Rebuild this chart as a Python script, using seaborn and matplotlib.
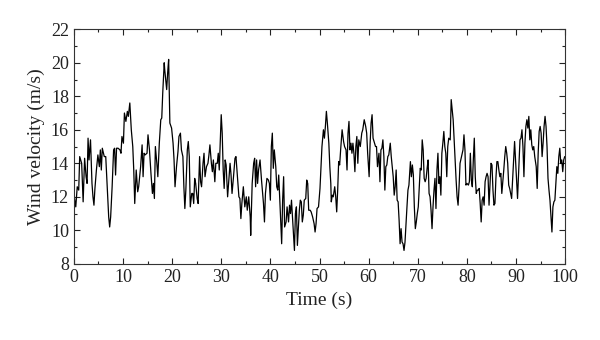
import numpy as np
import pandas as pd
import seaborn as sns
import matplotlib
matplotlib.use("Agg")
import matplotlib.pyplot as plt
from matplotlib.ticker import MultipleLocator

# wind record, split into blocks of ~20 s
time_a = [0.1, 0.4, 0.7, 1.0, 1.2, 1.6, 1.9, 2.2, 2.5, 2.7, 2.9, 3.1, 3.4, 3.7, 3.9, 4.1, 4.3, 4.6, 4.9, 5.2,
          5.4, 5.6, 5.8, 6.2, 6.5, 6.8, 7.1, 7.3, 7.5, 7.8, 8.1, 8.3, 8.5, 8.7, 9.0, 9.4, 9.6, 9.8, 10.1, 10.3,
          10.6, 10.9, 11.1, 11.4, 11.7, 12.0, 12.2, 12.4, 12.7, 13.0, 13.2, 13.6, 13.9, 14.1, 14.3, 14.5, 14.9,
          15.1, 15.4, 15.7, 16.0, 16.2, 16.4, 16.6, 16.9, 17.1, 17.4, 17.7, 17.9, 18.1, 18.4, 18.5, 18.9, 19.1,
          19.3, 19.55, 19.9]
wind_a = [12.0, 11.4, 12.6, 12.4, 14.4, 14.0, 11.7, 14.3, 13.2, 12.8, 15.5, 14.2, 15.4, 12.8, 12.0, 11.5, 12.5, 13.6, 14.5, 13.8,
          14.8, 13.6, 14.9, 14.4, 14.4, 12.6, 10.8, 10.2, 10.8, 12.6, 14.8, 14.9, 13.3, 14.9, 14.9, 14.8, 14.6, 15.6, 15.2, 17.0,
          16.5, 17.1, 16.8, 17.6, 16.0, 15.0, 13.6, 11.6, 13.6, 12.3, 12.6, 13.8, 15.1, 13.2, 14.6, 14.5, 14.6,
          15.7, 14.8, 13.4, 12.2, 12.8, 11.9, 15.0, 14.0, 13.2, 15.2, 16.6, 16.7, 18.2, 20.0, 19.6, 18.4, 19.4,
          20.2, 16.4, 16.1]

time_b = [20.2, 20.4, 20.6, 20.9, 21.2, 21.4, 21.7, 21.9, 22.2, 22.4, 22.6, 22.8, 23.1, 23.3, 23.5, 23.7, 24.0, 24.2,
          24.4, 24.6, 24.8, 25.1, 25.3, 25.6, 25.8, 26.0, 26.3, 26.5, 26.7, 27.0, 27.3, 27.5, 27.7, 28.0, 28.2, 28.4,
          28.7, 28.9, 29.2, 29.4, 29.6, 29.8, 30.0, 30.2, 30.4, 30.6, 30.8, 31.0, 31.3, 31.6, 31.8, 32.0, 32.2, 32.5,
          32.8, 33.0, 33.3, 33.6, 33.8, 34.0, 34.2, 34.5, 34.8, 35.1, 35.3, 35.6, 35.9, 36.0, 36.3, 36.6, 36.8, 37.0,
          37.2, 37.4, 37.6, 37.9, 38.2, 38.6, 38.8, 39.0, 39.3, 39.6, 39.8]
wind_b = [15.2, 14.2, 12.6, 13.8, 14.7, 15.6, 15.8, 14.8, 14.4, 12.6, 11.3, 12.4, 14.8, 15.3, 14.4, 11.4, 12.2, 12.2,
          11.6, 13.1, 12.8, 11.9, 11.6, 14.4, 12.9, 12.6, 14.0, 14.6, 13.2, 13.8, 14.0, 14.5, 15.1, 14.0, 13.5, 14.2,
          12.9, 14.0, 14.0, 14.6, 13.6, 15.2, 16.9, 15.8, 13.6, 12.5, 14.2, 13.9, 12.0, 13.2, 14.0, 13.3, 12.2, 13.2,
          14.3, 14.4, 13.2, 12.0, 11.9, 10.7, 11.6, 12.6, 11.4, 12.0, 11.2, 12.0, 10.8, 9.7, 12.8, 14.0, 14.3, 12.6,
          14.2, 12.8, 13.6, 14.2, 13.0, 11.6, 10.5, 12.2, 13.1, 13.0, 12.8]

time_c = [40.0, 40.2, 40.4, 40.6, 40.8, 41.1, 41.3, 41.5, 41.7, 41.9, 42.1, 42.3, 42.5, 42.7, 42.9, 43.2, 43.4, 43.7,
          43.9, 44.1, 44.3, 44.5, 44.7, 44.9, 45.1, 45.3, 45.5, 45.7, 45.9, 46.1, 46.3, 46.5, 46.7, 46.9, 47.2, 47.4,
          47.6, 47.8, 48.1, 48.3, 48.6, 48.9, 49.1, 49.3, 49.5, 49.8, 50.1, 50.3, 50.5, 50.8, 51.0, 51.2, 51.4, 51.6,
          51.9, 52.1, 52.3, 52.4, 52.6, 52.8, 53.1, 53.3, 53.5, 53.7, 53.9, 54.1, 54.3, 54.6, 54.9, 55.1, 55.4, 55.6,
          55.8, 56.0, 56.2, 56.4, 56.6, 56.8, 57.0, 57.2, 57.4, 57.6, 57.8, 58.0, 58.3, 58.6, 58.8, 59.1, 59.4, 59.6,
          59.8]
wind_c = [11.8, 15.0, 15.8, 13.7, 14.8, 13.8, 12.6, 12.4, 13.3, 12.0, 10.6, 9.2, 11.8, 13.2, 10.2, 10.5, 11.4, 10.5,
          11.5, 11.0, 11.8, 10.8, 9.8, 8.8, 11.0, 11.4, 9.1, 10.2, 11.2, 11.8, 11.7, 10.5, 10.9, 11.8, 11.9, 13.0,
          12.8, 11.2, 11.2, 11.1, 10.8, 10.4, 9.9, 10.4, 11.3, 11.4, 12.5, 13.8, 15.0, 16.0, 15.5, 16.2, 17.1, 16.4,
          15.2, 13.8, 12.8, 11.7, 12.1, 12.0, 12.6, 12.0, 11.1, 12.4, 14.1, 13.9, 14.8, 16.0, 15.3, 15.0, 14.8, 13.6,
          15.8, 16.5, 14.8, 15.2, 14.6, 15.2, 14.6, 13.5, 15.0, 15.6, 14.0, 15.4, 15.0, 15.8, 16.0, 16.6, 16.2, 15.8,
          14.6]

time_d = [60.1, 60.3, 60.5, 60.7, 60.9, 61.2, 61.4, 61.6, 61.8, 62.1, 62.3, 62.5, 62.7, 62.9, 63.1, 63.3, 63.5, 63.7,
          63.9, 64.1, 64.4, 64.6, 64.8, 65.0, 65.2, 65.4, 65.6, 65.8, 66.0, 66.2, 66.4, 66.6, 66.8, 67.0, 67.2, 67.4,
          67.6, 67.8, 68.0, 68.2, 68.5, 68.7, 68.9, 69.1, 69.3, 69.5, 69.7, 69.9, 70.1, 70.3, 70.5, 70.7, 70.9, 71.1,
          71.3, 71.5, 71.7, 71.9, 72.1, 72.3, 72.5, 72.7, 72.9, 73.1, 73.3, 73.5, 73.7, 73.9, 74.1, 74.3, 74.5, 74.7,
          74.9, 75.1, 75.3, 75.5, 75.7, 75.9, 76.1, 76.3, 76.6, 76.8, 77.0, 77.2, 77.4, 77.6, 77.8, 78.0, 78.2, 78.4,
          78.6, 78.9, 79.2, 79.4, 79.6, 79.8]
wind_d = [13.2, 15.2, 16.4, 16.9, 15.5, 15.2, 15.0, 15.0, 13.8, 14.6, 12.9, 14.8, 14.9, 15.4, 14.4, 12.4, 13.8, 13.9,
          14.4, 14.5, 15.2, 14.4, 13.8, 13.2, 12.1, 12.6, 13.6, 11.8, 11.7, 10.6, 9.2, 10.1, 9.3, 9.2, 8.8, 9.3,
          10.4, 11.4, 12.4, 12.7, 14.1, 13.2, 13.9, 13.3, 11.4, 10.1, 10.5, 11.0, 11.4, 12.6, 13.7, 13.6, 15.4, 14.8,
          13.1, 12.9, 13.1, 13.7, 14.2, 12.2, 12.0, 11.2, 10.1, 11.4, 12.4, 13.1, 11.3, 13.6, 14.6, 12.8, 13.2, 12.1,
          14.6, 15.2, 15.9, 15.0, 14.6, 13.2, 15.0, 15.5, 15.4, 17.8, 17.2, 16.6, 15.4, 14.2, 13.0, 12.0, 11.5, 12.6,
          14.0, 14.4, 14.8, 15.7, 14.8, 12.7]

time_e = [80.0, 80.3, 80.5, 80.7, 80.9, 81.1, 81.3, 81.5, 81.7, 81.9, 82.1, 82.3, 82.5, 82.7, 82.9, 83.1, 83.3, 83.5,
          83.7, 83.9, 84.1, 84.3, 84.5, 84.7, 84.9, 85.1, 85.3, 85.5, 85.7, 85.9, 86.1, 86.3, 86.5, 86.7, 86.9, 87.1,
          87.3, 87.5, 87.7, 87.9, 88.1, 88.3, 88.5, 88.7, 88.9, 89.1, 89.3, 89.5, 89.7, 89.9, 90.1, 90.3, 90.6, 90.8,
          91.0, 91.2, 91.4, 91.6, 91.8, 92.0, 92.2, 92.4, 92.6, 92.8, 93.0, 93.2, 93.4, 93.6, 93.8, 94.1, 94.3, 94.5,
          94.7, 94.9, 95.1, 95.3, 95.5, 95.7, 95.9, 96.1, 96.3, 96.5, 96.7, 96.9, 97.1, 97.3, 97.5, 97.7, 97.9, 98.1,
          98.3, 98.5, 98.7, 98.9, 99.1, 99.3, 99.5, 99.7, 99.9]
wind_e = [12.8, 12.7, 12.9, 14.6, 13.0, 12.6, 14.2, 15.5, 13.2, 12.2, 12.4, 12.4, 12.5, 11.6, 10.5, 11.8, 12.0, 11.5,
          12.9, 13.2, 13.4, 13.2, 11.5, 12.8, 14.0, 13.9, 12.4, 11.5, 11.6, 13.1, 14.1, 14.1, 13.6, 13.2, 13.4, 12.2,
          12.9, 13.6, 14.4, 15.0, 14.6, 14.0, 12.7, 12.5, 12.2, 11.9, 13.0, 14.2, 15.3, 14.2, 13.2, 11.9, 14.0, 15.4,
          15.5, 16.0, 15.0, 13.2, 15.2, 16.2, 16.6, 16.1, 16.8, 15.4, 16.0, 15.1, 14.8, 15.0, 14.4, 13.8, 12.5, 14.6,
          15.9, 16.2, 15.8, 14.4, 15.2, 16.2, 16.8, 16.2, 15.0, 13.1, 12.4, 11.8, 10.8, 9.9, 11.4, 11.7, 11.8, 12.8,
          13.8, 13.4, 14.4, 14.9, 14.0, 14.2, 13.5, 14.2, 14.4]

df = pd.DataFrame({
    "time": time_a + time_b + time_c + time_d + time_e,
    "wind": wind_a + wind_b + wind_c + wind_d + wind_e,
})

sns.set_style("ticks")
plt.rcParams['font.family'] = ['Liberation Serif', 'DejaVu Serif']

fig = plt.figure(figsize=(6, 3.4), dpi=100)
ax = fig.add_axes([0.123, 0.224, 0.819, 0.690])

sns.lineplot(data=df, x="time", y="wind", color="black", lw=0.9, ax=ax, sort=False, estimator=None)

ax.set_xlim(0, 100)
ax.set_ylim(8, 22)
ax.xaxis.set_major_locator(MultipleLocator(10))
ax.xaxis.set_minor_locator(MultipleLocator(5))
ax.yaxis.set_major_locator(MultipleLocator(2))
ax.yaxis.set_minor_locator(MultipleLocator(1))
ax.tick_params(which="both", direction="in", top=True, right=True, labelsize=13, colors="#222222", width=0.8)
ax.tick_params(which="major", length=4)
ax.tick_params(which="minor", length=2.5)
for s in ax.spines.values():
    s.set_linewidth(0.8)
    s.set_color("#333333")

ax.set_xlabel("Time (s)", fontsize=14, color="#222222")
ax.set_ylabel("Wind velocity (m/s)", fontsize=14, color="#222222")

fig.savefig("out.png", dpi=100)
